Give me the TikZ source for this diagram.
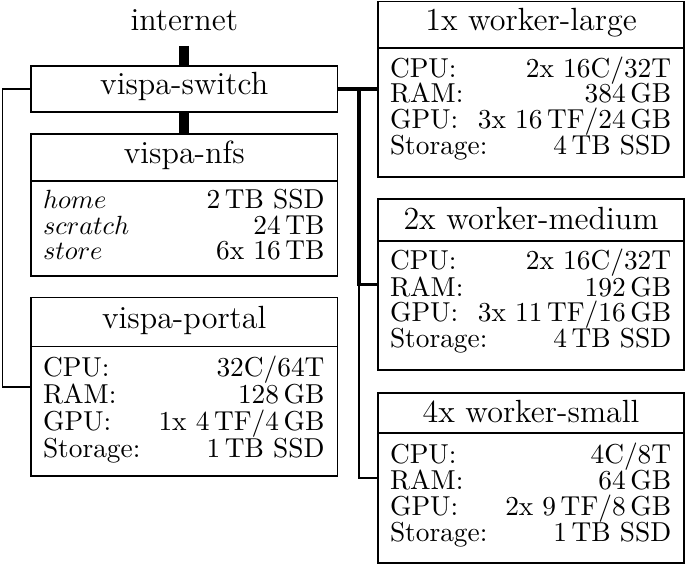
\documentclass[tikz,border=0pt]{standalone}
\usepackage{fontspec}
\usetikzlibrary{fit}
\begin{document}
\begin{tikzpicture}[x=0.38pt,y=-0.38pt,
  box/.style={draw,line width=0.7pt,inner sep=0pt,fit={#1}},
  ttl/.style={anchor=base,font=\fontsize{12.2}{14}\selectfont,inner sep=0pt},
  lbl/.style={anchor=base west,font=\fontsize{10.4}{12}\selectfont,inner sep=0pt},
  mlbl/.style={anchor=base west,font=\fontsize{10}{12}\selectfont,inner sep=0pt},
  val/.style={anchor=base east,font=\fontsize{10.4}{12}\selectfont,inner sep=0pt},
  sepline/.style={line width=0.7pt},
  fat/.style={line width=3.8pt},
  midline/.style={line width=1.5pt},
  thinline/.style={line width=0.75pt}]
\useasboundingbox (0,0) rectangle (685,564);

% ---------- left column ----------
\node[ttl,inner sep=5.5pt] (inet) at (184.25,30.5) {internet};

\node[box={(31,66) (337.5,112)}] (sw) {};
\node[ttl] (swt) at (184.25,95) {vispa-switch};

\node[box={(31,134) (337.5,276)}] (nfs) {};
\node[ttl] (nfst) at (184.25,163.5) {vispa-nfs};
\draw[sepline] (nfs.west |- 0,181) -- (nfs.east |- 0,181);
\node[mlbl] (nfs1l) at (42.5,209) {$home$};
\node[val] (nfs1v) at (325,209) {2\,TB SSD};
\node[mlbl] (nfs2l) at (42.5,234.5) {$scratch$};
\node[val] (nfs2v) at (325,234.5) {24\,TB};
\node[mlbl] (nfs3l) at (42.5,260) {$store$};
\node[val] (nfs3v) at (325,260) {6x 16\,TB};

\node[box={(31,297.5) (337.5,476)}] (pt) {};
\node[ttl] (ptt) at (184.25,329) {vispa-portal};
\draw[sepline] (pt.west |- 0,346.5) -- (pt.east |- 0,346.5);
\node[lbl] (pt1l) at (42.5,376.5) {CPU:};
\node[val] (pt1v) at (325,376.5) {32C/64T};
\node[lbl] (pt2l) at (42.5,403.5) {RAM:};
\node[val] (pt2v) at (325,403.5) {128\,GB};
\node[lbl] (pt3l) at (42.5,430.5) {GPU:};
\node[val] (pt3v) at (325,430.5) {1x 4\,TF/4\,GB};
\node[lbl] (pt4l) at (42.5,457.3) {Storage:};
\node[val] (pt4v) at (325,457.3) {1\,TB SSD};

% ---------- right column ----------
\node[box={(378,1.5) (684,177)}] (wl) {};
\node[ttl] (wlt) at (531,31) {1x worker-large};
\draw[sepline] (wl.west |- 0,48) -- (wl.east |- 0,48);
\node[lbl] (wl1l) at (389.5,77.3) {CPU:};
\node[val] (wl1v) at (671.7,77.3) {2x 16C/32T};
\node[lbl] (wl2l) at (389.5,103) {RAM:};
\node[val] (wl2v) at (671.7,103) {384\,GB};
\node[lbl] (wl3l) at (389.5,128.7) {GPU:};
\node[val] (wl3v) at (671.7,128.7) {3x 16\,TF/24\,GB};
\node[lbl] (wl4l) at (389.5,154.5) {Storage:};
\node[val] (wl4v) at (671.7,154.5) {4\,TB SSD};

\node[box={(378,199) (684,370)}] (wm) {};
\node[ttl] (wmt) at (531,229.5) {2x worker-medium};
\draw[sepline] (wm.west |- 0,241) -- (wm.east |- 0,241);
\node[lbl] (wm1l) at (389.5,270) {CPU:};
\node[val] (wm1v) at (671.7,270) {2x 16C/32T};
\node[lbl] (wm2l) at (389.5,296) {RAM:};
\node[val] (wm2v) at (671.7,296) {192\,GB};
\node[lbl] (wm3l) at (389.5,322) {GPU:};
\node[val] (wm3v) at (671.7,322) {3x 11\,TF/16\,GB};
\node[lbl] (wm4l) at (389.5,347.5) {Storage:};
\node[val] (wm4v) at (671.7,347.5) {4\,TB SSD};

\node[box={(378,393) (684,563)}] (ws) {};
\node[ttl] (wst) at (531,422) {4x worker-small};
\draw[sepline] (ws.west |- 0,433) -- (ws.east |- 0,433);
\node[lbl] (ws1l) at (389.5,463) {CPU:};
\node[val] (ws1v) at (671.7,463) {4C/8T};
\node[lbl] (ws2l) at (389.5,489) {RAM:};
\node[val] (ws2v) at (671.7,489) {64\,GB};
\node[lbl] (ws3l) at (389.5,515) {GPU:};
\node[val] (ws3v) at (671.7,515) {2x 9\,TF/8\,GB};
\node[lbl] (ws4l) at (389.5,541) {Storage:};
\node[val] (ws4v) at (671.7,541) {1\,TB SSD};

% ---------- connectors ----------
\coordinate (jr) at (358.7,0);
\coordinate (jl) at (2.5,0);
\draw[fat] (inet.south) -- (sw.north);
\draw[fat] (sw.south) -- (nfs.north);
\draw[midline] (sw.east) -- (wl.west |- sw.east);
\draw[midline] (jr |- sw.east) -- (jr |- wm.west) -- (wm.west);
\draw[thinline] (jr |- wm.west) -- (jr |- ws.west) -- (ws.west);
\draw[thinline] (sw.west) -- (jl |- sw.west) -- (jl |- pt.west) -- (pt.west);
\end{tikzpicture}
\end{document}
